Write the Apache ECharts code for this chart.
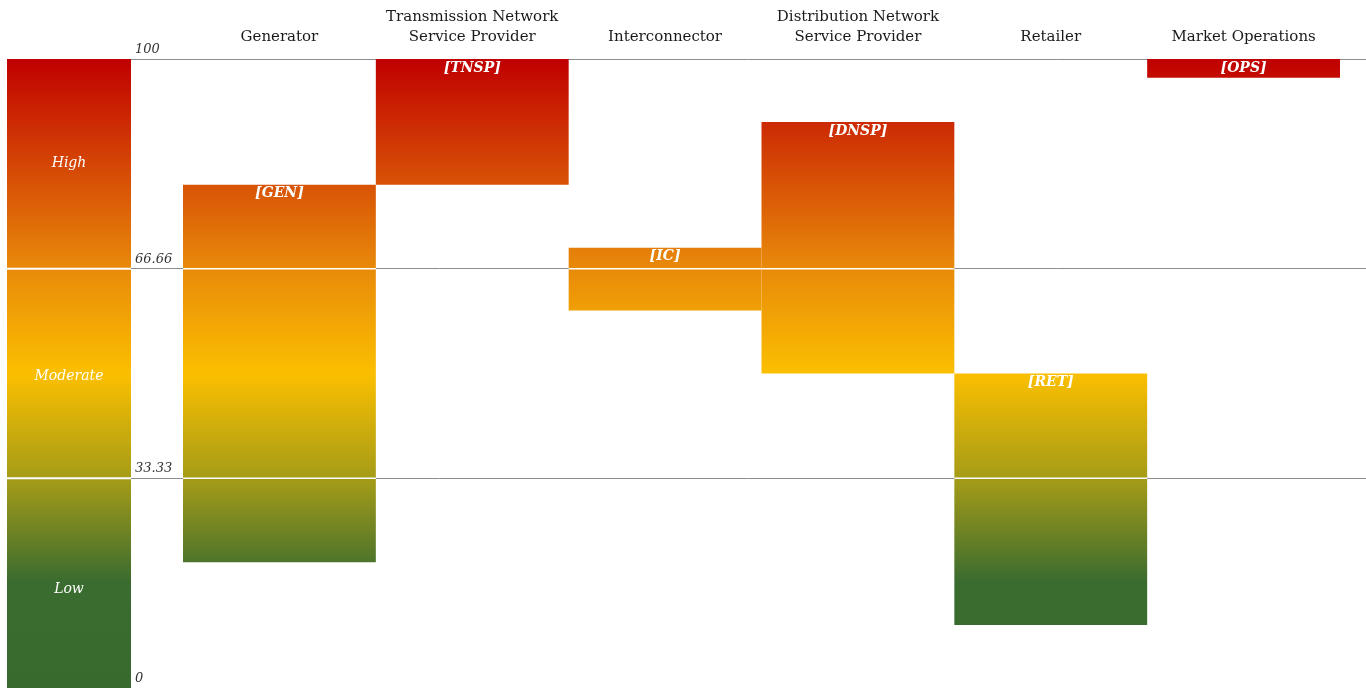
<!doctype html>
<html>
<head>
<meta charset="utf-8">
<script src="https://cdn.jsdelivr.net/npm/echarts@6/dist/echarts.min.js"></script>
<style>
* { margin: 0; padding: 0; }
#chart { width: 1366px; height: 688px; background: #fff; }
</style>
</head>
<body>
<div id="chart"></div>
<script>
// participants and their risk range (0 = low, 100 = high)
var categories = ['Generator', 'Transmission Network\nService Provider', 'Interconnector',
                  'Distribution Network\nService Provider', 'Retailer', 'Market Operations'];
var codes = ['[GEN]', '[TNSP]', '[IC]', '[DNSP]', '[RET]', '[OPS]'];
var lowValues  = [20, 80, 60, 50, 10, 97];
var highValues = [80, 100, 70, 90, 50, 100];

// risk bands on the left
var bandNames = ['Low', 'Moderate', 'High'];
var bandEdges = [0, 33.33, 66.66, 100];
var tickLabels = ['0', '33.33', '66.66', '100'];

var serif = '"DejaVu Serif", "Liberation Serif", serif';

// gradient tied to the y scale, so every bar shares the same colours
function riskFill(api) {
    var top = api.coord([0, 100])[1];
    var bottom = api.coord([0, 0])[1];
    return {
        type: 'linear', global: true,
        x: 0, y: top, x2: 0, y2: bottom,
        colorStops: [
            { offset: 0,    color: '#c00000' },
            { offset: 0.33, color: '#e8890a' },
            { offset: 0.5,  color: '#fbbf00' },
            { offset: 0.67, color: '#a39b18' },
            { offset: 0.83, color: '#3b6c2f' },
            { offset: 1,    color: '#386a2e' }
        ]
    };
}

function separators(api, idx, low, high, x, w, width) {
    var out = [];
    for (var i = 1; i < bandEdges.length - 1; i++) {
        var t = bandEdges[i];
        if (t > low && t < high) {
            var y = api.coord([idx, t])[1];
            out.push({ type: 'line', z2: 5,
                shape: { x1: x, y1: y, x2: x + w, y2: y },
                style: { stroke: '#fff', lineWidth: width } });
        }
    }
    return out;
}

function renderBand(params, api) {
    var low = api.value(1), high = api.value(2);
    var pTop = api.coord([0, high]);
    var pBot = api.coord([0, low]);
    var w = api.size([1, 0])[0];
    var x = pTop[0] - w / 2;
    var kids = [
        { type: 'rect', shape: { x: x, y: pTop[1], width: w, height: pBot[1] - pTop[1] },
          style: { fill: riskFill(api) } },
        { type: 'text', z2: 6, style: {
            text: bandNames[params.dataIndex], x: pTop[0],
            y: (pTop[1] + pBot[1]) / 2 + (2 - params.dataIndex) * 3,
            align: 'center', verticalAlign: 'middle', fill: '#fff',
            font: 'italic 14px ' + serif } }
    ];
    if (params.dataIndex > 0) {
        kids.push({ type: 'line', z2: 5, shape: { x1: x, y1: pBot[1], x2: x + w, y2: pBot[1] },
                    style: { stroke: '#fff', lineWidth: 2 } });
    }
    return { type: 'group', children: kids };
}

function renderBar(params, api) {
    var idx = api.value(0), low = api.value(1), high = api.value(2);
    var pTop = api.coord([idx, high]);
    var pBot = api.coord([idx, low]);
    var w = api.size([1, 0])[0];
    var x = pTop[0] - w / 2;
    var kids = [
        { type: 'rect', shape: { x: x, y: pTop[1], width: w, height: pBot[1] - pTop[1] },
          style: { fill: riskFill(api) } },
        { type: 'text', z2: 6, style: {
            text: codes[idx], x: pTop[0], y: pTop[1] + 2,
            align: 'center', verticalAlign: 'top', fill: '#fff',
            font: 'italic bold 14px ' + serif } }
    ];
    return { type: 'group', children: kids.concat(separators(api, idx, low, high, x, w, 1.5)) };
}

var bandData = [];
for (var b = 0; b < bandNames.length; b++) bandData.push([0, bandEdges[b], bandEdges[b + 1]]);

var barData = categories.map(function (c, i) { return [i, lowValues[i], highValues[i]]; });

var chart = echarts.init(document.getElementById('chart'));
chart.setOption({
    animation: false,
    grid: [
        { left: 7, top: 59, width: 124, bottom: 0 },
        { left: 131, top: 59, right: 0, bottom: 0 },
        { left: 183, top: 59, right: 26, bottom: 0 }
    ],
    xAxis: [
        { gridIndex: 0, type: 'category', data: [''], position: 'top',
          axisLine: { show: true, lineStyle: { color: '#777' } },
          axisTick: { show: false }, axisLabel: { show: false } },
        { gridIndex: 1, type: 'value', show: false, min: 0, max: 1 },
        { gridIndex: 2, type: 'category', data: categories, position: 'top', z: 10,
          axisLine: { show: true, lineStyle: { color: '#777' } },
          axisTick: { show: false },
          axisLabel: { interval: 0, margin: 12, color: '#1a1a1a', fontFamily: serif,
                       fontSize: 15, lineHeight: 20 } }
    ],
    yAxis: [
        { gridIndex: 0, type: 'value', min: 0, max: 100, show: false },
        { gridIndex: 1, type: 'value', min: 0, max: 100, interval: 100 / 3,
          axisLine: { show: false }, axisTick: { show: false },
          splitLine: { show: true, lineStyle: { color: '#8c8c8c', width: 1 } },
          axisLabel: {
              inside: true, margin: 4, align: 'left', verticalAlign: 'bottom',
              padding: [0, 0, 3, 0], color: '#333', fontFamily: serif,
              fontStyle: 'italic', fontSize: 13,
              formatter: function (v) { return tickLabels[Math.round(v / (100 / 3))]; }
          } },
        { gridIndex: 2, type: 'value', min: 0, max: 100, show: false }
    ],
    series: [
        { type: 'custom', xAxisIndex: 0, yAxisIndex: 0, z: 3,
          encode: { x: 0, y: [1, 2] }, renderItem: renderBand, data: bandData },
        { type: 'custom', xAxisIndex: 2, yAxisIndex: 2, z: 3,
          encode: { x: 0, y: [1, 2] }, renderItem: renderBar, data: barData }
    ]
});
</script>
</body>
</html>
